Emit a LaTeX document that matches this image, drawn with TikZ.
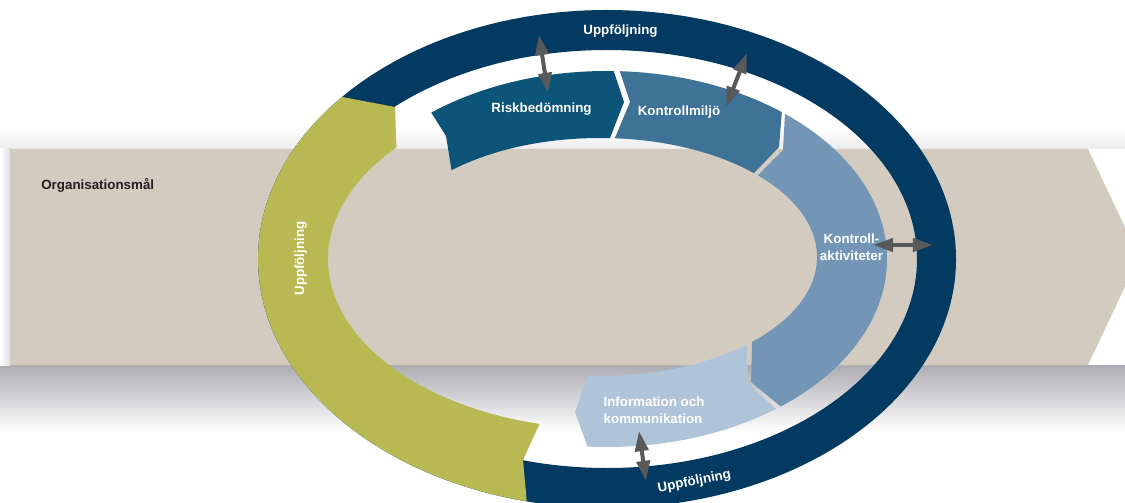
\documentclass[tikz,border=0pt]{standalone}
\usepackage{fontspec}
\setmainfont{Liberation Sans}
\usetikzlibrary{calc,arrows.meta}

\definecolor{navyring}{HTML}{033A62}
\definecolor{oliveband}{HTML}{B9B953}
\definecolor{riskblue}{HTML}{0D5479}
\definecolor{miljoblue}{HTML}{3F7297}
\definecolor{aktblue}{HTML}{7396B6}
\definecolor{infoblue}{HTML}{B0C4D9}
\definecolor{goalbeige}{HTML}{D3CBBF}
\definecolor{arrowgray}{HTML}{58595B}
\definecolor{darktext}{HTML}{231F20}
\definecolor{shadowdark}{RGB}{172,172,178}
\definecolor{shadowmid}{RGB}{222,222,225}
\definecolor{shadowlight}{RGB}{236,236,238}

% one piece of the inner process ring, cut out by a clip polygon
\newcommand\ringpiece[2]{%
  \begin{scope}
    \clip #2;
    \fill[#1, even odd rule]
      (O) ellipse [x radius=280, y radius=188]
      (O3) ellipse [x radius=217, y radius=119];
  \end{scope}}

\begin{document}
\begin{tikzpicture}[x=0.02cm, y=0.02cm,
  lbl/.style={font=\bfseries\fontsize{7.6}{9.6}\selectfont, text=white, inner sep=0pt, align=center},
  dblarrow/.style={draw=arrowgray, line width=2.3pt,
    {Triangle[length=11.5pt, width=7.5pt]}-{Triangle[length=11.5pt, width=7.5pt]}}]

\useasboundingbox (0,0) rectangle (1125,-503);
\fill[white] (0,0) rectangle (1125,-503);
\clip (0,0) rectangle (1125,-503);

% soft shadow around the goal arrow
\shade[top color=shadowdark, middle color=shadowmid, bottom color=white]
  (0,-365) rectangle (1125,-432);
\shade[top color=white, bottom color=shadowlight] (0,-127) rectangle (1125,-149);
\shade[left color=white, right color=shadowmid] (0,-149) rectangle (10,-365);

% goal arrow across the picture
\fill[goalbeige]
  (10,-149) -- (1088,-149) -- (1139,-257) -- (1088,-365) -- (10,-365) -- cycle;

\coordinate (O) at (607,-259);
\coordinate (O3) at (600,-257);

% outer follow-up ring
\fill[navyring, even odd rule]
  (O) ellipse [x radius=349, y radius=249]
  (O) ellipse [x radius=310, y radius=209];

% green follow-up band on the left
\fill[oliveband]
  ($(O)+(139.4:349 and 249)$)
    arc [start angle=139.4, end angle=256.7, x radius=349, y radius=249]
  -- (523,-460)
  -- ($(O)+(256:279 and 170)$)
    arc [start angle=256, end angle=139, x radius=279, y radius=170]
  -- (395,-107) -- cycle;

% process steps
\ringpiece{riskblue}{(412,-82) -- (446,-136) -- (458,-210) -- (596,-174) -- (624,-102) -- (603,-39) -- cycle}
\ringpiece{miljoblue}{(609,-39) -- (630,-102) -- (602,-169) -- (731,-197) -- (779,-147) -- (785,-73) -- cycle}
\ringpiece{aktblue}{(787,-76) -- (783,-150) -- (735,-198) -- (753,-305) -- (751,-382) -- (809,-430) -- (1000,-430) -- (1000,-76) -- cycle}
\ringpiece{infoblue}{(747,-305) -- (747,-383) -- (803,-433) -- (597,-473) -- (575,-412) -- (597,-347) -- cycle}

% labels
\node[lbl, anchor=base] (upptop) at (620.5,-35) {Uppföljning};
\node[lbl, anchor=base, rotate=90] (uppleft) at (304,-258.5) {Uppföljning};
\node[lbl, anchor=base, rotate=11] (uppbottom) at (695,-485) {Uppföljning};
\node[lbl, anchor=base] (risk) at (541.5,-113) {Riskbedömning};
\node[lbl, anchor=base] (miljo) at (679,-116) {Kontrollmiljö};
\node[lbl, anchor=base] (akt1) at (851.5,-243) {Kontroll-};
\node[lbl, anchor=base] (akt2) at (851.5,-260) {aktiviteter};
\node[lbl, anchor=base] (info1) at (654,-406) {Information och};
\node[lbl, anchor=base] (info2) at (653,-423) {kommunikation};
\node[lbl, anchor=base west, text=darktext] (goal) at (41,-190) {Organisationsmål};

% links between the steps and the follow-up ring
\coordinate (a1) at (539,-35);  \coordinate (b1) at (548,-93);
\coordinate (a2) at (747,-53);  \coordinate (b2) at (726,-107);
\coordinate (a3) at (873,-245); \coordinate (b3) at (933,-245);
\coordinate (a4) at (639,-431); \coordinate (b4) at (646,-481);
\draw[dblarrow] (a1) -- (b1);
\draw[dblarrow] (a2) -- (b2);
\draw[dblarrow] (a3) -- (b3);
\draw[dblarrow] (a4) -- (b4);

\end{tikzpicture}
\end{document}
